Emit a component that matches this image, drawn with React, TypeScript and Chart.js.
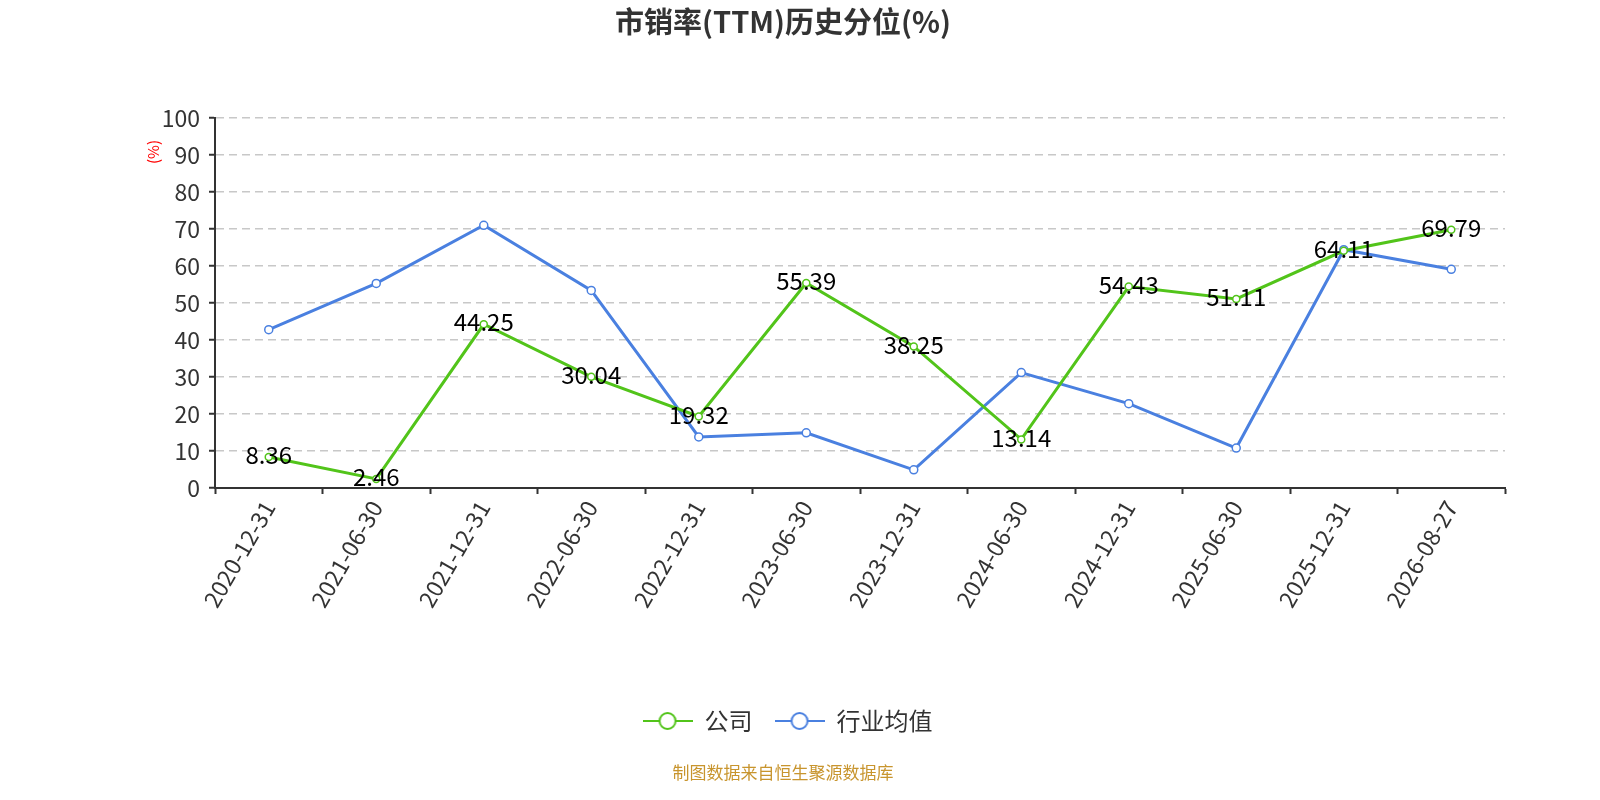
import React, { useEffect, useRef } from 'react';
import { Chart, registerables } from 'chart.js';
Chart.register(...registerables);

const categories = [
  '2020-12-31', '2021-06-30', '2021-12-31', '2022-06-30', '2022-12-31', '2023-06-30',
  '2023-12-31', '2024-06-30', '2024-12-31', '2025-06-30', '2025-12-31', '2026-08-27',
];
const companyValues = [8.36, 2.46, 44.25, 30.04, 19.32, 55.39, 38.25, 13.14, 54.43, 51.11, 64.11, 69.79];
const industryValues = [42.8, 55.3, 71.0, 53.4, 13.8, 14.9, 4.9, 31.2, 22.8, 10.8, 64.4, 59.1];
const seriesNames = ['公司', '行业均值'];

const GREEN = '#52c41a';
const BLUE = '#4a80e0';
const FONT = "'Noto Sans CJK SC', 'Noto Sans', sans-serif";

// legend icon: short line with a hollow circle in the middle
const legendIcon = (color: string) => {
  const c = document.createElement('canvas');
  c.width = 50;
  c.height = 22;
  const ctx = c.getContext('2d')!;
  ctx.strokeStyle = color;
  ctx.lineWidth = 2;
  ctx.beginPath();
  ctx.moveTo(0, 11);
  ctx.lineTo(50, 11);
  ctx.stroke();
  ctx.beginPath();
  ctx.arc(25, 11, 8, 0, Math.PI * 2);
  ctx.fillStyle = '#fff';
  ctx.fill();
  ctx.stroke();
  return c;
};

const decorPlugin = {
  id: 'decor',
  afterDatasetsDraw(chart: any) {
    const ctx = chart.ctx;
    ctx.save();
    // value labels on the company series
    const meta = chart.getDatasetMeta(0);
    ctx.font = `24px ${FONT}`;
    ctx.fillStyle = '#000';
    ctx.textAlign = 'center';
    ctx.textBaseline = 'middle';
    meta.data.forEach((pt: any, i: number) => {
      ctx.fillText(companyValues[i].toFixed(2), pt.x, pt.y - 2);
    });
    ctx.restore();
  },
  afterDraw(chart: any) {
    const ctx = chart.ctx;
    ctx.save();
    ctx.textAlign = 'center';
    ctx.textBaseline = 'middle';
    ctx.font = `bold 29px ${FONT}`;
    ctx.fillStyle = '#333';
    ctx.fillText('市销率(TTM)历史分位(%)', 783, 22);

    ctx.font = `17px ${FONT}`;
    ctx.fillStyle = '#c8952e';
    ctx.fillText('制图数据来自恒生聚源数据库', 783, 773);

    ctx.translate(153, 152);
    ctx.rotate(-Math.PI / 2);
    ctx.font = `15px ${FONT}`;
    ctx.fillStyle = '#ff0000';
    ctx.fillText('(%)', 0, 0);
    ctx.restore();
  },
};

const App: React.FC = () => {
  const ref = useRef<HTMLCanvasElement>(null);

  useEffect(() => {
    if (!ref.current) return;
    const icons = [legendIcon(GREEN), legendIcon(BLUE)];
    const chart = new Chart(ref.current, {
      type: 'line',
      data: {
        labels: categories,
        datasets: [
          {
            label: seriesNames[0],
            data: companyValues,
            borderColor: GREEN,
            backgroundColor: '#fff',
            borderWidth: 3,
            pointRadius: 3.5,
            pointBorderWidth: 1.5,
            pointBackgroundColor: '#fff',
            pointBorderColor: GREEN,
            tension: 0,
          },
          {
            label: seriesNames[1],
            data: industryValues,
            borderColor: BLUE,
            backgroundColor: '#fff',
            borderWidth: 3,
            pointRadius: 4,
            pointBorderWidth: 1.5,
            pointBackgroundColor: '#fff',
            pointBorderColor: BLUE,
            tension: 0,
          },
        ],
      },
      options: {
        responsive: true,
        maintainAspectRatio: false,
        animation: false,
        layout: { padding: { top: 118, left: 70, right: 95, bottom: 57 } },
        scales: {
          x: {
            offset: true,
            grid: {
              offset: true,
              drawOnChartArea: false,
              tickLength: 6,
              tickColor: '#333',
              tickWidth: 2,
            },
            border: { color: '#333', width: 2 },
            ticks: {
              font: { family: FONT, size: 23 },
              color: '#333',
              minRotation: 60,
              maxRotation: 60,
              padding: 2,
            },
            afterFit: (scale: any) => { scale.height = 199; },
          },
          y: {
            min: 0,
            max: 100,
            ticks: {
              stepSize: 10,
              font: { family: FONT, size: 23 },
              color: '#333',
              padding: 9,
            },
            grid: {
              color: '#c8c8c8',
              lineWidth: 1.5,
              tickLength: 6,
              tickColor: '#333',
              tickWidth: 2,
              tickBorderDash: [],
            } as any,
            border: { color: '#333', width: 2, dash: [8, 5] },
            afterFit: (scale: any) => { scale.width = 145; },
          },
        },
        plugins: {
          title: { display: false },
          tooltip: { enabled: false },
          legend: {
            position: 'bottom',
            labels: {
              usePointStyle: true,
              pointStyleWidth: 50,
              font: { family: FONT, size: 24 },
              color: '#333',
              padding: 22,
              generateLabels: (c: any) => {
                const items = Chart.defaults.plugins.legend.labels.generateLabels(c);
                items.forEach((it: any, i: number) => { it.pointStyle = icons[i]; });
                return items;
              },
            },
          },
        },
      },
      plugins: [decorPlugin],
    });
    return () => {
      chart.destroy();
    };
  }, []);

  return (
    <div style={{ position: 'fixed', left: 0, top: 0, width: 1600, height: 800, background: '#fff' }}>
      <canvas ref={ref}></canvas>
    </div>
  );
};

export default App;
